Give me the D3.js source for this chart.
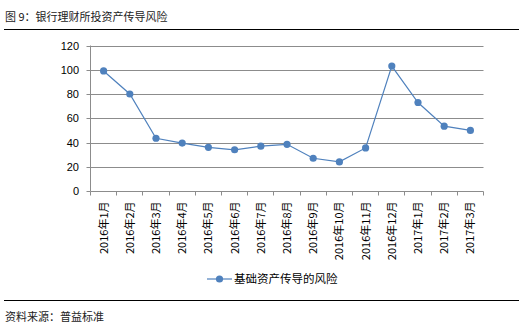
<!DOCTYPE html>
<html><head><meta charset="utf-8">
<script src="https://cdn.jsdelivr.net/npm/d3@7"></script>
<style>
body{margin:0;background:#fff;}
svg{display:block;font-family:"Noto Sans CJK SC","Noto Sans",sans-serif;}
</style></head>
<body><svg id="c" width="523" height="331"></svg>
<script>
const months = ["2016年1月","2016年2月","2016年3月","2016年4月","2016年5月","2016年6月","2016年7月","2016年8月","2016年9月","2016年10月","2016年11月","2016年12月","2017年1月","2017年2月","2017年3月"];
const riskValues = [99, 80, 43.5, 39.5, 36, 34, 37, 38.5, 27, 24, 35.5, 103, 73, 53.5, 50];
const yTicks = [0, 20, 40, 60, 80, 100, 120];
const seriesName = "基础资产传导的风险";
const titleText = "图 9：银行理财所投资产传导风险";
const sourceText = "资料来源：普益标准";

const svg = d3.select("#c");
const plotL = 90.5, plotR = 483.5, plotT = 45.5, plotB = 191;
const blue = "#4F81BD", grid = "#8c8c8c";

// heading and rules
svg.append("text").attr("x", 5).attr("y", 21).attr("font-size", 11).attr("fill", "#222").text(titleText);
svg.append("line").attr("x1", 4).attr("x2", 519).attr("y1", 29.5).attr("y2", 29.5).attr("stroke", "#000").attr("stroke-width", 1);
svg.append("line").attr("x1", 4).attr("x2", 519).attr("y1", 300.5).attr("y2", 300.5).attr("stroke", "#000").attr("stroke-width", 1);
svg.append("text").attr("x", 5).attr("y", 321).attr("font-size", 11).attr("fill", "#222").text(sourceText);

const x = d3.scaleBand().domain(months).range([plotL, plotR]);
const y = d3.scaleLinear().domain([0, 120]).range([plotB, plotT]);

// horizontal gridlines
svg.append("g").selectAll("line").data(yTicks.filter(d => d > 0)).join("line")
  .attr("x1", plotL).attr("x2", plotR)
  .attr("y1", d => Math.round(y(d)) + 0.5).attr("y2", d => Math.round(y(d)) + 0.5)
  .attr("stroke", grid).attr("stroke-width", 1);

// y axis
const yAxis = svg.append("g").attr("transform", `translate(${plotL},0)`)
  .call(d3.axisLeft(y).tickValues(yTicks).tickSize(4).tickPadding(7.5));
yAxis.select(".domain").attr("stroke", grid).attr("d", `M0,${plotT}V${plotB}`);
yAxis.selectAll(".tick line").attr("stroke", grid);
yAxis.selectAll(".tick").attr("transform", d => `translate(0,${Math.round(y(d)) + 0.5})`);
yAxis.selectAll("text").attr("font-size", 11).attr("fill", "#000").attr("font-family", "Liberation Sans, Arial, sans-serif");

// x axis with boundary ticks
const xAxis = svg.append("g").attr("transform", `translate(0,${Math.round(plotB) + 0.5})`);
xAxis.append("line").attr("x1", plotL).attr("x2", plotR).attr("stroke", grid);
const bounds = months.map(m => x(m)).concat([plotR]);
xAxis.selectAll("line.tk").data(bounds).join("line").attr("class", "tk")
  .attr("x1", d => Math.floor(d) + 0.5).attr("x2", d => Math.floor(d) + 0.5)
  .attr("y1", 0).attr("y2", 4).attr("stroke", grid);
xAxis.selectAll("text").data(months).join("text")
  .attr("transform", d => `translate(${x(d) + x.bandwidth() / 2 + 4},10) rotate(-90)`)
  .attr("text-anchor", "end").attr("font-size", 11).attr("fill", "#000").text(d => d);

// series line and markers
const pts = months.map((m, i) => [x(m) + x.bandwidth() / 2, y(riskValues[i])]);
svg.append("path").attr("d", d3.line()(pts)).attr("fill", "none").attr("stroke", blue).attr("stroke-width", 1.2);
svg.append("g").selectAll("circle").data(pts).join("circle")
  .attr("cx", d => d[0]).attr("cy", d => d[1]).attr("r", 3.6).attr("fill", blue);

// legend
const lg = svg.append("g").attr("transform", "translate(207,279)");
lg.append("line").attr("x1", 0).attr("x2", 25).attr("stroke", blue).attr("stroke-width", 1.2);
lg.append("circle").attr("cx", 12.5).attr("r", 3.6).attr("fill", blue);
lg.append("text").attr("x", 27).attr("y", 4).attr("font-size", 11.5).attr("fill", "#000").text(seriesName);
</script></body></html>
